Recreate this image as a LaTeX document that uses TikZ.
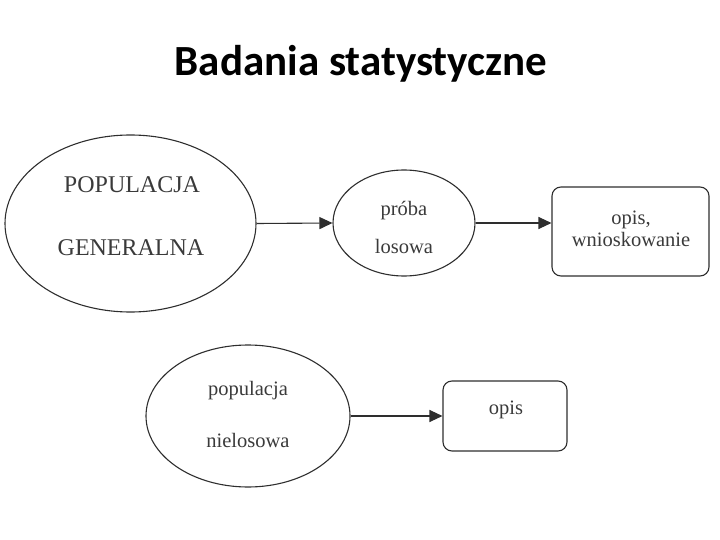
\documentclass[tikz,border=0pt]{standalone}
\usepackage{fontspec}
\setmainfont{Liberation Serif}
\newfontfamily\titlefont{Carlito}
\usetikzlibrary{shapes.geometric,arrows.meta}
\definecolor{linec}{HTML}{2E2E2E}
\definecolor{textc}{HTML}{3A3A3A}
\tikzset{
  ell/.style={ellipse,draw=linec,line width=1.1pt,inner sep=0pt},
  rbox/.style={rectangle,rounded corners=9pt,draw=linec,line width=1.1pt,inner sep=0pt},
  lbl/.style={anchor=base,text=textc,inner sep=0pt},
  bigtxt/.style={lbl,font=\fontsize{24}{28}\selectfont},
  smalltxt/.style={lbl,font=\fontsize{20.5}{24}\selectfont},
  arr/.style={draw=linec,line width=1.1pt,-{Triangle[length=13pt,width=12pt]}}
}
\begin{document}
\begin{tikzpicture}[x=1pt,y=-1pt]
\path[use as bounding box] (0,0) rectangle (720,540);
\node[anchor=base,inner sep=0pt,font=\titlefont\bfseries\fontsize{43}{50}\selectfont] (title) at (361,76) {Badania statystyczne};
% shapes
\node[ell,minimum width=251pt,minimum height=177pt] (pg) at (130.5,223.5) {};
\node[ell,minimum width=142pt,minimum height=106pt] (pl) at (404,223) {};
\node[rbox,minimum width=157pt,minimum height=89pt] (ow) at (630.5,231.5) {};
\node[ell,minimum width=204pt,minimum height=142pt] (pn) at (248,416) {};
\node[rbox,minimum width=124pt,minimum height=70pt] (op) at (505,416) {};
% texts
\node[bigtxt] (t1) at (132,193) {POPULACJA};
\node[bigtxt] (t2) at (131,255) {GENERALNA};
\node[smalltxt] (t3) at (404,215) {próba};
\node[smalltxt] (t4) at (404,253) {losowa};
\node[smalltxt] (t5) at (631,225) {opis,};
\node[smalltxt] (t6) at (631,247) {wnioskowanie};
\node[smalltxt] (t7) at (248,395) {populacja};
\node[smalltxt] (t8) at (248,447) {nielosowa};
\node[smalltxt] (t9) at (506,414) {opis};
% connectors
\draw[arr] (pg.east) -- (pl.west);
\draw[arr] (pl.east) -- (ow.west |- pl.east);
\draw[arr] (pn.east) -- (op.west);
\end{tikzpicture}
\end{document}
